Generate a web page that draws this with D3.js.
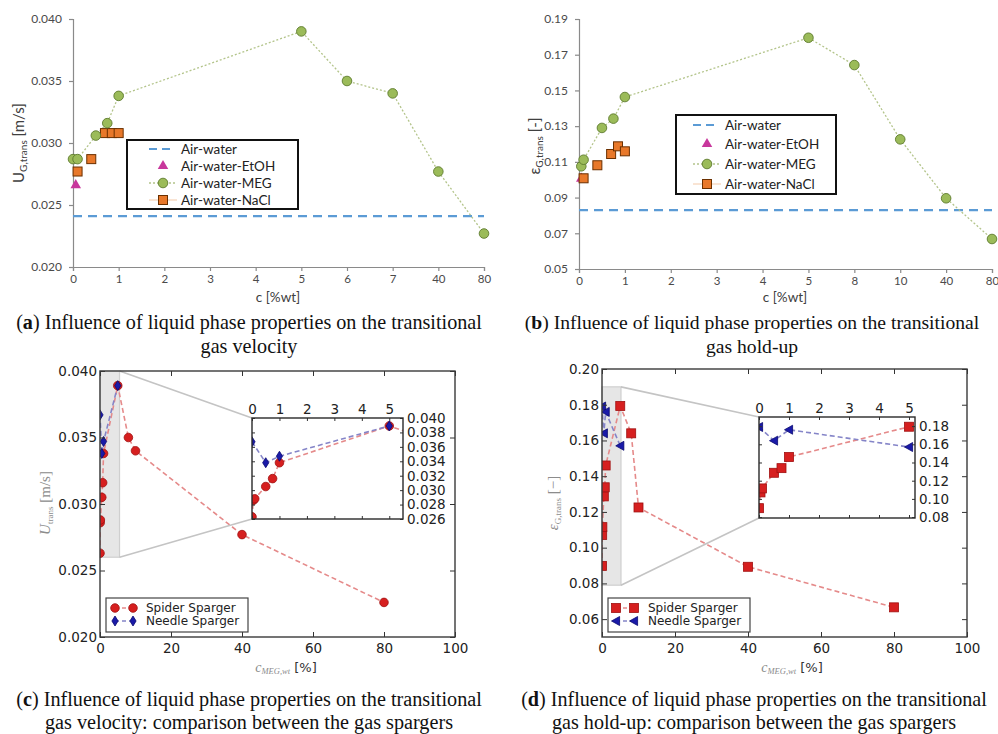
<!DOCTYPE html>
<html><head><meta charset="utf-8">
<script src="https://cdn.jsdelivr.net/npm/d3@7"></script>
<style>body{margin:0;background:#fff}svg{display:block}</style>
</head><body>
<svg id="fig" width="998" height="734"></svg>
<script>
// ---------- DATA ----------
const aTickValues = [0,1,2,3,4,5,6,7,40,80];
const aTickLabels = ["0","1","2","3","4","5","6","7","40","80"];
const bTickValues = [0,1,2,3,4,5,8,10,40,80];
const bTickLabels = ["0","1","2","3","4","5","8","10","40","80"];
const aYTicks = [0.020,0.025,0.030,0.035,0.040];
const bYTicks = [0.05,0.07,0.09,0.11,0.13,0.15,0.17,0.19];

const legendNamesAB = ["Air-water","Air-water-EtOH","Air-water-MEG","Air-water-NaCl"];

const aMegX  = [0,0.1,0.5,0.75,1,5,6,7,40,80];
const aMegY  = [0.0287,0.0287,0.0306,0.0316,0.0338,0.0390,0.0350,0.0340,0.0277,0.0227];
const aNaclX = [0.1,0.4,0.7,0.85,1];
const aNaclY = [0.0277,0.0287,0.0308,0.0308,0.0308];
const aEtohX = [0.06];
const aEtohY = [0.0266];
const aAirWater = 0.0241;

const bMegX  = [0.05,0.1,0.5,0.75,1,5,8,10,40,80];
const bMegY  = [0.1075,0.1112,0.1290,0.1342,0.1463,0.1795,0.1642,0.1226,0.0896,0.0668];
const bNaclX = [0.1,0.4,0.7,0.85,1];
const bNaclY = [0.1008,0.1081,0.1144,0.1187,0.1159];
const bEtohX = [0.05];
const bEtohY = [0.1006];
const bAirWater = 0.083;

const cdXTicks = [0,20,40,60,80,100];
const cYTicks = [0.020,0.025,0.030,0.035,0.040];
const dYTicks = [0.06,0.08,0.10,0.12,0.14,0.16,0.18,0.20];
const insetXTicks = [0,1,2,3,4,5];
const cInsetYTicks = [0.026,0.028,0.030,0.032,0.034,0.036,0.038,0.040];
const dInsetYTicks = [0.08,0.10,0.12,0.14,0.16,0.18];
const legendNamesCD = ["Spider Sparger","Needle Sparger"];

const cSpiderX = [0,0.05,0.1,0.5,0.75,1,5,8,10,40,80];
const cSpiderY = [0.0263,0.0286,0.0288,0.0305,0.0316,0.0338,0.0389,0.0350,0.0340,0.0277,0.0226];
const cNeedleX = [0,0.5,1,5];
const cNeedleY = [0.0367,0.0338,0.0347,0.0389];

const dSpiderX = [0,0.05,0.1,0.5,0.75,1,5,8,10,40,80];
const dSpiderY = [0.0898,0.1071,0.1115,0.1287,0.1338,0.1460,0.1793,0.1640,0.1225,0.0893,0.0666];
const dNeedleX = [0,0.5,1,5];
const dNeedleY = [0.179,0.164,0.176,0.157];

const captions = [
  {letter:"a", l1:"Influence of liquid phase properties on the transitional", l2:"gas velocity"},
  {letter:"b", l1:"Influence of liquid phase properties on the transitional", l2:"gas hold-up"},
  {letter:"c", l1:"Influence of liquid phase properties on the transitional", l2:"gas velocity: comparison between the gas spargers"},
  {letter:"d", l1:"Influence of liquid phase properties on the transitional", l2:"gas hold-up: comparison between the gas spargers"}
];

// ---------- HELPERS ----------
const svg = d3.select("#fig");
const zip = (xs, ys) => xs.map((x,i)=>({x, y: ys[i]}));
const XL = "Lato, 'Open Sans', sans-serif";
const MPL = "'DejaVu Sans', sans-serif";
const SERIF = "'Liberation Serif', 'DejaVu Serif', serif";

const MEG_FILL = "#9bbb59", MEG_STROKE = "#5d7a2e", MEG_LINE = "#b3c48a";
const NACL_FILL = "#e8782a", NACL_STROKE = "#6b3000";
const ETOH_FILL = "#c8379c";
const AIR = "#5b9bd5";

function excelPanel(opt){
  const g = svg.append("g");
  const n = opt.tickValues.length;
  const x = d3.scaleLinear().domain(opt.tickValues)
    .range(opt.tickValues.map((d,i)=> opt.x0 + i*(opt.x1-opt.x0)/(n-1)));
  const y = d3.scaleLinear().domain(opt.yDomain).range([opt.yb, opt.yt]);

  const ax = g.append("g").attr("transform",`translate(0,${opt.yb})`)
    .call(d3.axisBottom(x).tickValues(opt.tickValues).tickFormat((d,i)=>opt.tickLabels[i]).tickSize(4).tickPadding(4));
  const ay = g.append("g").attr("transform",`translate(${opt.x0},0)`)
    .call(d3.axisLeft(y).tickValues(opt.yTicks).tickFormat(d3.format(opt.yFmt)).tickSize(4).tickPadding(7));
  [ax,ay].forEach(a=>{
    a.selectAll("path,line").attr("stroke","#8a8a8a").attr("stroke-width",1.2);
    a.selectAll("text").attr("fill","#4a4a4a").attr("font-family",XL).attr("font-size",12);
  });
  ax.selectAll("text").attr("font-size",11.5);

  // air-water line
  g.append("line").attr("x1",x(opt.tickValues[0])).attr("x2",x(opt.tickValues[n-1]))
    .attr("y1",y(opt.air)).attr("y2",y(opt.air))
    .attr("stroke",AIR).attr("stroke-width",2.2).attr("stroke-dasharray","9,6");

  const meg = zip(opt.megX, opt.megY);
  g.append("path").datum(meg).attr("fill","none").attr("stroke",MEG_LINE).attr("stroke-width",1.3)
    .attr("stroke-dasharray","2,2").attr("d", d3.line().x(d=>x(d.x)).y(d=>y(d.y)));
  g.selectAll(null).data(zip(opt.etohX,opt.etohY)).join("path")
    .attr("transform",d=>`translate(${x(d.x)},${y(d.y)})`)
    .attr("d", d3.symbol(d3.symbolTriangle, 48)).attr("fill",ETOH_FILL);
  g.selectAll(null).data(zip(opt.naclX,opt.naclY)).join("rect")
    .attr("x",d=>x(d.x)-4.5).attr("y",d=>y(d.y)-4.5).attr("width",9).attr("height",9)
    .attr("fill",NACL_FILL).attr("stroke",NACL_STROKE).attr("stroke-width",1);
  g.selectAll(null).data(meg).join("circle")
    .attr("cx",d=>x(d.x)).attr("cy",d=>y(d.y)).attr("r",4.8)
    .attr("fill",MEG_FILL).attr("stroke",MEG_STROKE).attr("stroke-width",0.9);

  // titles
  const yt = g.append("text").attr("transform",`translate(${opt.ylabX},${opt.ylabY}) rotate(-90)`)
    .attr("text-anchor","middle").attr("font-family",XL).attr("font-size",15).attr("fill","#404040");
  yt.append("tspan").text(opt.ySym);
  yt.append("tspan").attr("dy",3).attr("font-size",10).text("G,trans");
  yt.append("tspan").attr("dy",-3).text(opt.yUnit);
  g.append("text").attr("x",opt.xlabX).attr("y",302).attr("text-anchor","middle")
    .attr("font-family",XL).attr("font-size",13.5).attr("fill","#404040").text("c [%wt]");

  // legend
  const L = opt.leg;
  const lg = g.append("g");
  lg.append("rect").attr("x",L.x).attr("y",L.y).attr("width",L.w).attr("height",L.h)
    .attr("fill","#fff").attr("stroke","#111").attr("stroke-width",2);
  legendNamesAB.forEach((name,i)=>{
    const yy = L.rows[i];
    if(i===0) lg.append("line").attr("x1",L.sx-14).attr("x2",L.sx+10).attr("y1",yy).attr("y2",yy)
      .attr("stroke",AIR).attr("stroke-width",2.2).attr("stroke-dasharray","8,5");
    if(i===1) lg.append("path").attr("transform",`translate(${L.sx},${yy})`)
      .attr("d",d3.symbol(d3.symbolTriangle,48)).attr("fill",ETOH_FILL);
    if(i===2){
      lg.append("line").attr("x1",L.sx-14).attr("x2",L.sx+14).attr("y1",yy).attr("y2",yy)
        .attr("stroke",MEG_LINE).attr("stroke-width",1.3).attr("stroke-dasharray","2,2");
      lg.append("circle").attr("cx",L.sx).attr("cy",yy).attr("r",4.8).attr("fill",MEG_FILL).attr("stroke",MEG_STROKE).attr("stroke-width",0.9);
    }
    if(i===3){
      lg.append("line").attr("x1",L.sx-14).attr("x2",L.sx+14).attr("y1",yy).attr("y2",yy)
        .attr("stroke","#f3c9a8").attr("stroke-width",1);
      lg.append("rect").attr("x",L.sx-4.5).attr("y",yy-4.5).attr("width",9).attr("height",9)
        .attr("fill",NACL_FILL).attr("stroke",NACL_STROKE).attr("stroke-width",1);
    }
    lg.append("text").attr("x",L.tx).attr("y",yy).attr("dy","0.35em")
      .attr("font-family",XL).attr("font-size",13.5).attr("fill","#222").text(name);
  });
}

excelPanel({x0:73, x1:484, yt:19, yb:267, yDomain:[0.020,0.040], yTicks:aYTicks, yFmt:".3f",
  tickValues:aTickValues, tickLabels:aTickLabels, air:aAirWater,
  megX:aMegX, megY:aMegY, naclX:aNaclX, naclY:aNaclY, etohX:aEtohX, etohY:aEtohY,
  ySym:"U", yUnit:" [m/s]", ylabX:24, ylabY:143, xlabX:278,
  leg:{x:127,y:140,w:171,h:69,rows:[149,166,183,200],sx:163,tx:181}});

excelPanel({x0:579, x1:992, yt:19, yb:269, yDomain:[0.05,0.19], yTicks:bYTicks, yFmt:".2f",
  tickValues:bTickValues, tickLabels:bTickLabels, air:bAirWater,
  megX:bMegX, megY:bMegY, naclX:bNaclX, naclY:bNaclY, etohX:bEtohX, etohY:bEtohY,
  ySym:"ε", yUnit:" [-]", ylabX:540, ylabY:146, xlabX:785,
  leg:{x:676,y:115,w:160,h:79,rows:[125,144,164,184],sx:707,tx:725}});

// ---------- matplotlib panels ----------
const RED_F = "#d61f1f", RED_S = "#a01010", RED_L = "#e58a8a";
const BLUE_F = "#1a1aa8", BLUE_S = "#0a0a70", BLUE_L = "#8585c8";

function thinDiamond(s){ const h=s, w=s*0.62; return `M0,${-h/2}L${w/2},0L0,${h/2}L${-w/2},0Z`; }
function leftTri(s){ const r=s/2; return `M${-r},0L${r*0.8},${-r}L${r*0.8},${r}Z`; }

function drawSeries(g, x, y, spider, needle, kind){
  const line = d3.line().x(d=>x(d.x)).y(d=>y(d.y));
  g.append("path").datum(spider).attr("fill","none").attr("stroke",RED_L).attr("stroke-width",1.6)
    .attr("stroke-dasharray","5,3").attr("d",line);
  g.append("path").datum(needle).attr("fill","none").attr("stroke",BLUE_L).attr("stroke-width",1.6)
    .attr("stroke-dasharray","5,3").attr("d",line);
  if(kind==="c"){
    g.selectAll(null).data(spider).join("circle").attr("cx",d=>x(d.x)).attr("cy",d=>y(d.y)).attr("r",4.3)
      .attr("fill",RED_F).attr("stroke",RED_S).attr("stroke-width",0.8);
    g.selectAll(null).data(needle).join("path").attr("transform",d=>`translate(${x(d.x)},${y(d.y)})`)
      .attr("d",thinDiamond(10)).attr("fill",BLUE_F).attr("stroke",BLUE_S).attr("stroke-width",0.8);
  } else {
    g.selectAll(null).data(spider).join("rect").attr("x",d=>x(d.x)-4.5).attr("y",d=>y(d.y)-4.5)
      .attr("width",9).attr("height",9).attr("fill",RED_F).attr("stroke",RED_S).attr("stroke-width",0.8);
    g.selectAll(null).data(needle).join("path").attr("transform",d=>`translate(${x(d.x)},${y(d.y)})`)
      .attr("d",leftTri(9)).attr("fill",BLUE_F).attr("stroke",BLUE_S).attr("stroke-width",0.8);
  }
}

function styleAxis(a, fs){
  a.select(".domain").remove();
  a.selectAll("line").attr("stroke","#333").attr("stroke-width",1);
  a.selectAll("text").attr("fill","#222").attr("font-family",MPL).attr("font-size",fs||13.5);
}

function mplPanel(o){
  const g = svg.append("g");
  const x = d3.scaleLinear([0,100],[o.x0,o.x1]);
  const y = d3.scaleLinear(o.yDomain,[o.yb,o.yt]);
  const xi = d3.scaleLinear(o.iXDomain,[o.ix0,o.ix1]);
  const yi = d3.scaleLinear(o.iYDomain,[o.iyb,o.iyt]);
  const spider = zip(o.spX,o.spY), needle = zip(o.ndX,o.ndY);
  const cid = "clip"+o.kind, icid = "iclip"+o.kind;
  const defs = g.append("defs");
  defs.append("clipPath").attr("id",cid).append("rect").attr("x",o.x0).attr("y",o.yt).attr("width",o.x1-o.x0).attr("height",o.yb-o.yt);
  defs.append("clipPath").attr("id",icid).append("rect").attr("x",o.ix0).attr("y",o.iyt).attr("width",o.ix1-o.ix0).attr("height",o.iyb-o.iyt);

  // zoom region
  const rx0 = x(o.iXDomain[0]), rx1 = x(o.iXDomain[1]);
  const ry0 = y(o.iYDomain[1]), ry1 = y(o.iYDomain[0]);
  g.append("rect").attr("x",rx0).attr("y",ry0).attr("width",rx1-rx0).attr("height",ry1-ry0)
    .attr("fill","#e6e6e6").attr("stroke","#cfcfcf").attr("stroke-width",1.2);

  drawSeries(g.append("g").attr("clip-path",`url(#${cid})`), x, y, spider, needle, o.kind);

  // connectors
  g.append("line").attr("x1",rx1).attr("y1",ry0).attr("x2",o.ix0).attr("y2",o.iyt).attr("stroke","#c4c4c4").attr("stroke-width",1.6);
  g.append("line").attr("x1",rx1).attr("y1",ry1).attr("x2",o.ix0).attr("y2",o.iyb).attr("stroke","#c4c4c4").attr("stroke-width",1.6);

  // main axes
  styleAxis(g.append("g").attr("transform",`translate(0,${o.yb})`).call(d3.axisBottom(x).tickValues(cdXTicks).tickSize(-5).tickPadding(6)));
  styleAxis(g.append("g").attr("transform",`translate(0,${o.yt})`).call(d3.axisTop(x).tickValues(cdXTicks).tickSize(-5).tickFormat("")));
  styleAxis(g.append("g").attr("transform",`translate(${o.x0},0)`).call(d3.axisLeft(y).tickValues(o.yTicks).tickFormat(d3.format(o.yFmt)).tickSize(-5).tickPadding(3)));
  styleAxis(g.append("g").attr("transform",`translate(${o.x1},0)`).call(d3.axisRight(y).tickValues(o.yTicks).tickSize(-5).tickFormat("")));
  g.append("rect").attr("x",o.x0).attr("y",o.yt).attr("width",o.x1-o.x0).attr("height",o.yb-o.yt)
    .attr("fill","none").attr("stroke","#3a3a3a").attr("stroke-width",1.4);

  // inset
  g.append("rect").attr("x",o.ix0).attr("y",o.iyt).attr("width",o.ix1-o.ix0).attr("height",o.iyb-o.iyt).attr("fill","#fff");
  drawSeries(g.append("g").attr("clip-path",`url(#${icid})`), xi, yi, spider, needle, o.kind);
  styleAxis(g.append("g").attr("transform",`translate(0,${o.iyt})`).call(d3.axisTop(xi).tickValues(insetXTicks).tickFormat(d3.format("d")).tickSize(-3).tickPadding(4)));
  styleAxis(g.append("g").attr("transform",`translate(0,${o.iyb})`).call(d3.axisBottom(xi).tickValues(insetXTicks).tickSize(-3).tickFormat("")));
  styleAxis(g.append("g").attr("transform",`translate(${o.ix1},0)`).call(d3.axisRight(yi).tickValues(o.iYTicks).tickFormat(d3.format(o.iYFmt)).tickSize(-3).tickPadding(4)));
  styleAxis(g.append("g").attr("transform",`translate(${o.ix0},0)`).call(d3.axisLeft(yi).tickValues(o.iYTicks).tickSize(-3).tickFormat("")));
  g.append("rect").attr("x",o.ix0).attr("y",o.iyt).attr("width",o.ix1-o.ix0).attr("height",o.iyb-o.iyt)
    .attr("fill","none").attr("stroke","#2a2a2a").attr("stroke-width",1.4);

  // labels
  const yl = g.append("text").attr("transform",`translate(${o.ylabX},${o.ylabY}) rotate(-90)`)
    .attr("text-anchor","middle").attr("font-family",SERIF).attr("font-size",15).attr("fill","#8c8c8c");
  yl.append("tspan").attr("font-style","italic").text(o.ySym);
  yl.append("tspan").attr("dy",3).attr("font-size",9).text(o.ySub);
  yl.append("tspan").attr("dy",-3).text(o.yUnit);
  const xl = g.append("text").attr("x",o.xlabX).attr("y",672).attr("text-anchor","middle")
    .attr("font-family",SERIF).attr("font-size",14).attr("fill","#8c8c8c");
  xl.append("tspan").attr("font-style","italic").text("c");
  xl.append("tspan").attr("dy",2).attr("font-size",8.5).attr("font-style","italic").text("MEG,wt");
  xl.append("tspan").attr("dy",-2).attr("font-family",MPL).attr("font-size",13).attr("fill","#333").text(" [%]");

  // legend
  const L = o.leg;
  const lg = g.append("g");
  lg.append("rect").attr("x",L.x).attr("y",L.y).attr("width",L.w).attr("height",L.h)
    .attr("fill","#fff").attr("stroke","#444").attr("stroke-width",1.2);
  legendNamesCD.forEach((name,i)=>{
    const yy = L.rows[i];
    const lx = d3.scaleLinear([0,1],[L.m0,L.m1]);
    const pts = [{x:0,y:yy},{x:1,y:yy}];
    lg.append("line").attr("x1",lx(0)).attr("x2",lx(1)).attr("y1",yy).attr("y2",yy)
      .attr("stroke",i===0?RED_L:BLUE_L).attr("stroke-width",1.6).attr("stroke-dasharray","4,3");
    pts.forEach(p=>{
      const px = lx(p.x);
      if(i===0){
        if(o.kind==="c") lg.append("circle").attr("cx",px).attr("cy",yy).attr("r",4.3).attr("fill",RED_F).attr("stroke",RED_S).attr("stroke-width",0.8);
        else lg.append("rect").attr("x",px-4.5).attr("y",yy-4.5).attr("width",9).attr("height",9).attr("fill",RED_F).attr("stroke",RED_S).attr("stroke-width",0.8);
      } else {
        lg.append("path").attr("transform",`translate(${px},${yy})`).attr("d",o.kind==="c"?thinDiamond(10):leftTri(9))
          .attr("fill",BLUE_F).attr("stroke",BLUE_S).attr("stroke-width",0.8);
      }
    });
    lg.append("text").attr("x",L.tx).attr("y",yy).attr("dy","0.36em").attr("font-family",MPL)
      .attr("font-size",12).attr("fill","#222").text(name);
  });
}

mplPanel({kind:"c", x0:100, x1:455, yt:371, yb:637, yDomain:[0.020,0.040], yTicks:cYTicks, yFmt:".3f",
  iXDomain:[0,5.5], iYDomain:[0.026,0.040], ix0:252, ix1:403, iyt:418, iyb:519, iYTicks:cInsetYTicks, iYFmt:".3f",
  spX:cSpiderX, spY:cSpiderY, ndX:cNeedleX, ndY:cNeedleY,
  ySym:"U", ySub:"trans", yUnit:" [m/s]", ylabX:50, ylabY:503, xlabX:286,
  leg:{x:106,y:598,w:142,h:34,rows:[608,621],m0:115,m1:133,tx:146}});

mplPanel({kind:"d", x0:602, x1:967, yt:369, yb:637, yDomain:[0.05,0.20], yTicks:dYTicks, yFmt:".2f",
  iXDomain:[0,5.2], iYDomain:[0.079,0.19], ix0:759, ix1:915, iyt:417, iyb:518, iYTicks:dInsetYTicks, iYFmt:".2f",
  spX:dSpiderX, spY:dSpiderY, ndX:dNeedleX, ndY:dNeedleY,
  ySym:"ε", ySub:"G,trans", yUnit:" [−]", ylabX:558, ylabY:503, xlabX:792,
  leg:{x:608,y:598,w:142,h:34,rows:[608,621],m0:616,m1:634,tx:648}});

// ---------- captions ----------
const capPos = [
  {cx:249, y1:329, y2:353, w1:466},
  {cx:752, y1:329, y2:353, w1:455},
  {cx:249, y1:706, y2:729, w1:466},
  {cx:754, y1:706, y2:729, w1:466}
];
captions.forEach((c,i)=>{
  const p = capPos[i];
  const t1 = svg.append("text").attr("x",p.cx).attr("y",p.y1).attr("text-anchor","middle")
    .attr("font-family",SERIF).attr("font-size",18).attr("fill","#111");
  t1.append("tspan").text("(");
  t1.append("tspan").attr("font-weight","bold").text(c.letter);
  t1.append("tspan").text(") " + c.l1);
  const w = t1.node().getComputedTextLength();
  const fs = 18 * p.w1 / w;
  t1.attr("font-size", fs);
  svg.append("text").attr("x",p.cx).attr("y",p.y2).attr("text-anchor","middle")
    .attr("font-family",SERIF).attr("font-size",fs).attr("fill","#111").text(c.l2);
});
</script>
</body></html>
